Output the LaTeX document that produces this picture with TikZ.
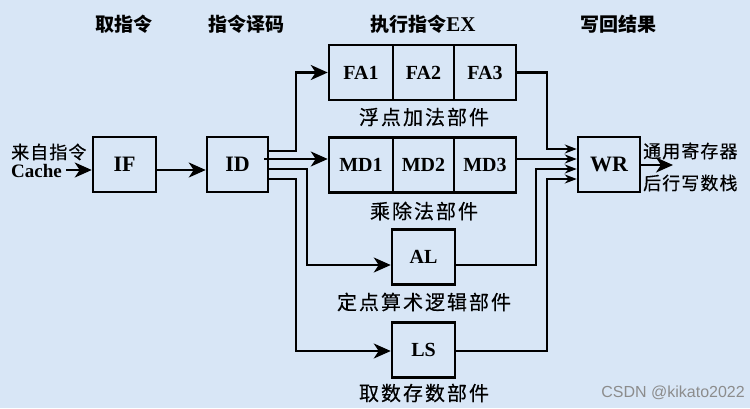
\documentclass[tikz,border=0pt]{standalone}
\usepackage{fontspec}
\setmainfont{Liberation Serif}
\newfontfamily\cjk{Noto Sans CJK SC}
\newfontfamily\cjksp[LetterSpace=10,FakeBold=0.4]{Noto Sans CJK SC}
\newfontfamily\cjkmid[LetterSpace=6,FakeBold=0.4]{Noto Sans CJK SC}
\newfontfamily\wmfont{Liberation Sans}
\usetikzlibrary{arrows.meta}
\definecolor{bgblue}{RGB}{216,230,246}
\tikzset{
  unit/.style={draw=black, line width=2.5pt, inner sep=0pt, minimum height=55pt,
    font=\bfseries\fontsize{20}{20}\selectfont},
  bigunit/.style={unit, font=\bfseries\fontsize{22}{22}\selectfont},
  arr/.style={line width=2.4pt, -{Stealth[length=17pt,width=15pt,inset=5pt]}},
  arrs/.style={line width=2.4pt, -{Stealth[length=12pt,width=9pt,inset=4pt]}},
  unitlabel/.style={font=\cjksp\fontsize{20}{20}\selectfont, inner sep=0pt},
  sidelabel/.style={font=\cjkmid\fontsize{18}{18}\selectfont, inner sep=0pt, anchor=west},
  stagelabel/.style={font=\cjk\bfseries\fontsize{19}{19}\selectfont, inner sep=0pt}
}
\begin{document}
\begin{tikzpicture}[x=1pt,y=-1pt]
\fill[bgblue] (0,0) rectangle (750,408);
\useasboundingbox (0,0) rectangle (750,408);

% stage titles
\node[stagelabel] (t1) at (124,24) {取指令};
\node[stagelabel] (t2) at (246,24) {指令译码};
\node[stagelabel] (t3) at (423,24) {执行指令{\rmfamily\bfseries\fontsize{21}{21}\selectfont EX}};
\node[stagelabel] (t4) at (618,24) {写回结果};

% units
\node[bigunit, minimum width=63pt] (IF) at (124.5,164.5) {IF};
\node[bigunit, minimum width=61pt] (ID) at (237.5,164.5) {ID};
\node[unit, minimum width=64pt] (FA1) at (361,72.5) {FA1};
\node[unit, minimum width=61pt] (FA2) at (423.5,72.5) {FA2};
\node[unit, minimum width=62pt] (FA3) at (485,72.5) {FA3};
\node[unit, minimum width=64pt] (MD1) at (361,165) {MD1};
\node[unit, minimum width=61pt] (MD2) at (423.5,165) {MD2};
\node[unit, minimum width=62pt] (MD3) at (485,165) {MD3};
\node[unit, minimum width=63pt] (AL) at (423.5,257) {AL};
\node[unit, minimum width=63pt] (LS) at (423.5,350) {LS};
\node[bigunit, minimum width=62pt] (WR) at (609,164.5) {WR};

% unit labels
\node[unitlabel] (lfa) at (424,117) {浮点加法部件};
\node[unitlabel] (lmd) at (424,211) {乘除法部件};
\node[unitlabel] (lal) at (424,302) {定点算术逻辑部件};
\node[unitlabel] (lls) at (424,393) {取数存数部件};

% input labels
\node[sidelabel] (src1) at (11,152) {来自指令};
\node[font=\bfseries\fontsize{19}{19}\selectfont, inner sep=0pt, anchor=west] (src2) at (11,171) {Cache};

% output labels
\node[sidelabel] (out1) at (643,151) {通用寄存器};
\node[sidelabel] (out2) at (643,183) {后行写数栈};
\coordinate (outend) at (673,165);

% connectors
\draw[arr] ([xshift=4pt]src2.east |- 0,170) -- (IF.west |- 0,170);
\draw[arr] (IF.east |- 0,170) -- (ID.west |- 0,170);
\draw[arr] (ID.east |- 0,151) -- (296,151) |- (FA1.west);
\draw[arr] ([xshift=-5pt]ID.east |- 0,159) -- (MD1.west |- 0,159);
\draw[arr] (ID.east |- 0,169) -- (307,169) |- (AL.west |- 0,265);
\draw[arr] (ID.east |- 0,179) -- (296,179) |- (LS.west |- 0,351);

\draw[arrs] (FA3.east) -- (547,72.5) |- (WR.west |- 0,149);
\draw[arrs] (MD3.east |- 0,159) -- (WR.west |- 0,159);
\draw[arrs] (AL.east |- 0,265) -- (536,265) |- (WR.west |- 0,169);
\draw[arrs] (LS.east |- 0,351) -- (547,351) |- (WR.west |- 0,179);
\draw[arr] (WR.east |- 0,165) -- (outend);

% watermark
\node[font=\wmfont\fontsize{16}{16}\selectfont, text=black!45, anchor=east, inner sep=0pt] (wm) at (745,393) {CSDN @kikato2022};
\end{tikzpicture}
\end{document}
